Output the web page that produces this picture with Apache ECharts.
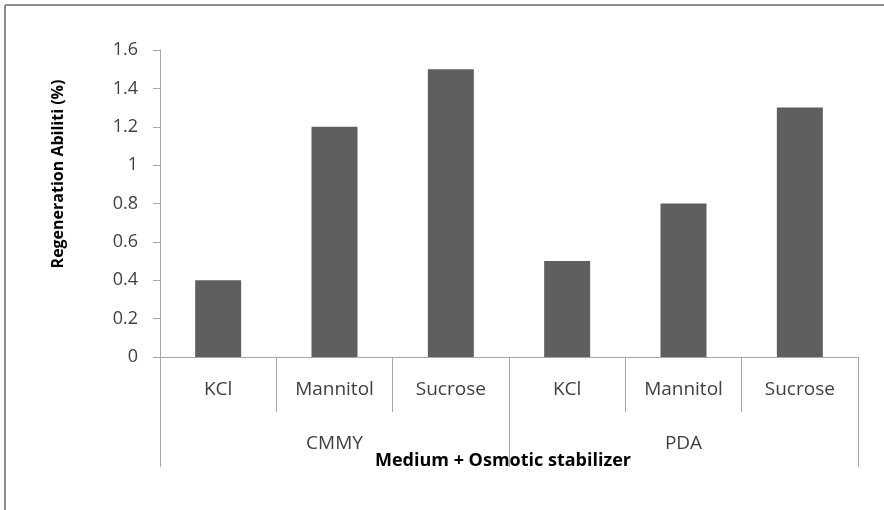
<!DOCTYPE html>
<html>
<head>
<meta charset="utf-8">
<script src="https://cdn.jsdelivr.net/npm/echarts@6/dist/echarts.min.js"></script>
<style>
html,body{margin:0;padding:0;background:#fff;}
#c{width:884px;height:510px;}
</style>
</head>
<body>
<div id="c"></div>
<script>
const categories = ['KCl', 'Mannitol', 'Sucrose', 'KCl', 'Mannitol', 'Sucrose'];
const groups = ['CMMY', 'PDA'];
const values = [0.4, 1.2, 1.5, 0.5, 0.8, 1.3];
const yTicks = { min: 0, max: 1.6, interval: 0.2 };

const FONT = 'Open Sans';
const chart = echarts.init(document.getElementById('c'));
chart.setOption({
  animation: false,
  backgroundColor: '#fff',
  grid: { left: 160, right: 26, top: 50, bottom: 153, containLabel: false },
  xAxis: [
    {
      type: 'category', data: categories, position: 'bottom',
      axisLine: { show: true, lineStyle: { color: '#a6a6a6', width: 1 } },
      axisTick: { show: true, length: 55, alignWithLabel: false, lineStyle: { color: '#a6a6a6' } },
      axisLabel: { margin: 23, color: '#404040', fontSize: 19, fontFamily: FONT }
    },
    {
      type: 'category', data: groups, position: 'bottom',
      axisLine: { show: false },
      axisTick: { show: true, length: 110, lineStyle: { color: '#a6a6a6' } },
      axisLabel: { margin: 77, color: '#404040', fontSize: 19, fontFamily: FONT }
    }
  ],
  yAxis: {
    type: 'value', min: yTicks.min, max: yTicks.max, interval: yTicks.interval,
    axisLine: { show: true, lineStyle: { color: '#a6a6a6' } },
    axisTick: { show: true, length: 7, lineStyle: { color: '#a6a6a6' } },
    splitLine: { show: false },
    axisLabel: { margin: 22, color: '#404040', fontSize: 18, fontFamily: FONT }
  },
  series: [{
    type: 'bar', data: values, xAxisIndex: 0, barWidth: 46,
    itemStyle: { color: '#5f5f5f' }
  }],
  graphic: [
    { type: 'line', shape: { x1: 5, y1: 5, x2: 884, y2: 5 }, style: { stroke: '#8c8c8c', lineWidth: 2 } },
    { type: 'line', shape: { x1: 5, y1: 5, x2: 5, y2: 510 }, style: { stroke: '#8c8c8c', lineWidth: 2 } },
    { type: 'text', x: 58, y: 174, rotation: Math.PI / 2,
      style: { text: 'Regeneration Abiliti (%)', font: 'bold 16px "Open Sans"', fill: '#000', align: 'center', verticalAlign: 'middle' } },
    { type: 'text', x: 503, y: 461,
      style: { text: 'Medium + Osmotic stabilizer', font: 'bold 18px "Open Sans"', fill: '#000', align: 'center', verticalAlign: 'middle' } }
  ]
});
</script>
</body>
</html>
